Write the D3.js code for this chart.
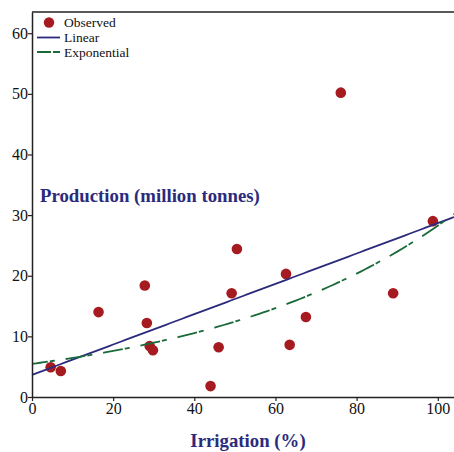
<!DOCTYPE html>
<html>
<head>
	<meta charset="utf-8">
	<script src="https://cdnjs.cloudflare.com/ajax/libs/d3/7.8.5/d3.min.js"></script>
	<style>
		body { margin: 0; background: #fff; }
		svg { display: block; font-family: "Liberation Serif", "Times New Roman", serif; }
	</style>
</head>
<body>
	<svg width="454" height="452"></svg>
	<script>
		let irrigation = [4.6, 7.1, 16.4, 27.8, 28.3, 29.0, 29.8, 44.0, 46.0, 49.2, 50.5, 62.6, 63.5, 67.5, 76.1, 89.0, 98.8];
		let production = [4.9, 4.3, 14.0, 18.4, 12.2, 8.4, 7.7, 1.8, 8.2, 17.1, 24.4, 20.3, 8.6, 13.2, 50.2, 17.1, 29.0];
		let xTicks = [0, 20, 40, 60, 80, 100];
		let yTicks = [0, 10, 20, 30, 40, 50, 60];
		let legendLabels = ["Observed", "Linear", "Exponential"];

		let svg = d3.select("svg");
		let plotL = 32, plotT = 12, plotR = 454, plotB = 397;

		let x = d3.scaleLinear().domain([0, 104]).range([plotL, plotR]);
		let y = d3.scaleLinear().domain([0, 63.5]).range([plotB, plotT]);

		let points = irrigation.map(function(d, i) { return {x: d, y: production[i]}; });

		//least squares fits (linear, and log-linear for exponential)
		function fit(xs, ys) {
			let mx = d3.mean(xs), my = d3.mean(ys), sxy = 0, sxx = 0;
			xs.forEach(function(v, i) { sxy += (v - mx) * (ys[i] - my); sxx += (v - mx) * (v - mx); });
			let b = sxy / sxx;
			return {a: my - b * mx, b: b};
		}
		let lin = fit(irrigation, production);
		let ex = fit(irrigation, production.map(Math.log));

		let xs = d3.range(0, 104.01, 1);
		let linPts = xs.map(function(v) { return {x: v, y: lin.a + lin.b * v}; });
		let expPts = xs.map(function(v) { return {x: v, y: Math.exp(ex.a) * Math.exp(ex.b * v)}; });

		let line = d3.line().x(function(d) { return x(d.x); }).y(function(d) { return y(d.y); });

		let red = "#a51b1f", blue = "#2b2a7c", green = "#1b6a3a";

		//top frame line
		svg.append("line")
			.attr("x1", plotL).attr("x2", plotR)
			.attr("y1", plotT).attr("y2", plotT)
			.attr("stroke", "#222").attr("stroke-width", 1.5);

		//points
		svg.append("g").selectAll("circle")
			.data(points)
			.enter()
			.append("circle")
			.attr("cx", function(d) { return x(d.x); })
			.attr("cy", function(d) { return y(d.y); })
			.attr("r", 5.3)
			.attr("fill", red);

		//fit lines
		svg.append("path")
			.attr("d", line(linPts))
			.attr("fill", "none")
			.attr("stroke", blue)
			.attr("stroke-width", 1.8);
		svg.append("path")
			.attr("d", line(expPts))
			.attr("fill", "none")
			.attr("stroke", green)
			.attr("stroke-width", 1.8)
			.attr("stroke-dasharray", "20,2,5,11")
			.attr("stroke-dashoffset", 4);

		//axes
		let xAxis = svg.append("g")
			.attr("transform", "translate(0," + plotB + ")")
			.call(d3.axisBottom(x).tickValues(xTicks).tickSize(4).tickSizeOuter(0));
		let yAxis = svg.append("g")
			.attr("transform", "translate(" + plotL + ",0)")
			.call(d3.axisLeft(y).tickValues(yTicks).tickSize(4).tickSizeOuter(0));
		[xAxis, yAxis].forEach(function(a) {
			a.select(".domain").attr("stroke", "#222").attr("stroke-width", 1.5);
			a.selectAll(".tick line").attr("stroke", "#222").attr("stroke-width", 1.2);
			a.selectAll(".tick text")
				.attr("fill", "#111")
				.style("font-family", "'Liberation Serif', serif")
				.style("font-size", "16px");
		});
		xAxis.selectAll(".tick text").attr("y", 6);
		yAxis.selectAll(".tick text").attr("x", -4);

		//axis titles
		svg.append("text")
			.attr("x", 40)
			.attr("y", 202)
			.attr("fill", blue)
			.style("font-weight", "bold")
			.style("font-size", "18.8px")
			.text("Production (million tonnes)");
		svg.append("text")
			.attr("x", 248)
			.attr("y", 447)
			.attr("text-anchor", "middle")
			.attr("fill", blue)
			.style("font-weight", "bold")
			.style("font-size", "18.8px")
			.text("Irrigation (%)");

		//legend
		let legend = svg.append("g")
			.style("font-size", "13.5px");
		legend.append("circle")
			.attr("cx", 49).attr("cy", 22.5).attr("r", 5.2)
			.attr("fill", red);
		legend.append("line")
			.attr("x1", 37).attr("x2", 60).attr("y1", 37.5).attr("y2", 37.5)
			.attr("stroke", blue).attr("stroke-width", 1.8);
		legend.append("line")
			.attr("x1", 37).attr("x2", 60).attr("y1", 52).attr("y2", 52)
			.attr("stroke", green).attr("stroke-width", 1.8)
			.attr("stroke-dasharray", "14,2,7,2");
		legend.selectAll("text")
			.data(legendLabels)
			.enter()
			.append("text")
			.attr("x", 64)
			.attr("y", function(d, i) { return 27 + i * 15; })
			.attr("fill", "#111")
			.text(function(d) { return d; });
	</script>
</body>
</html>
